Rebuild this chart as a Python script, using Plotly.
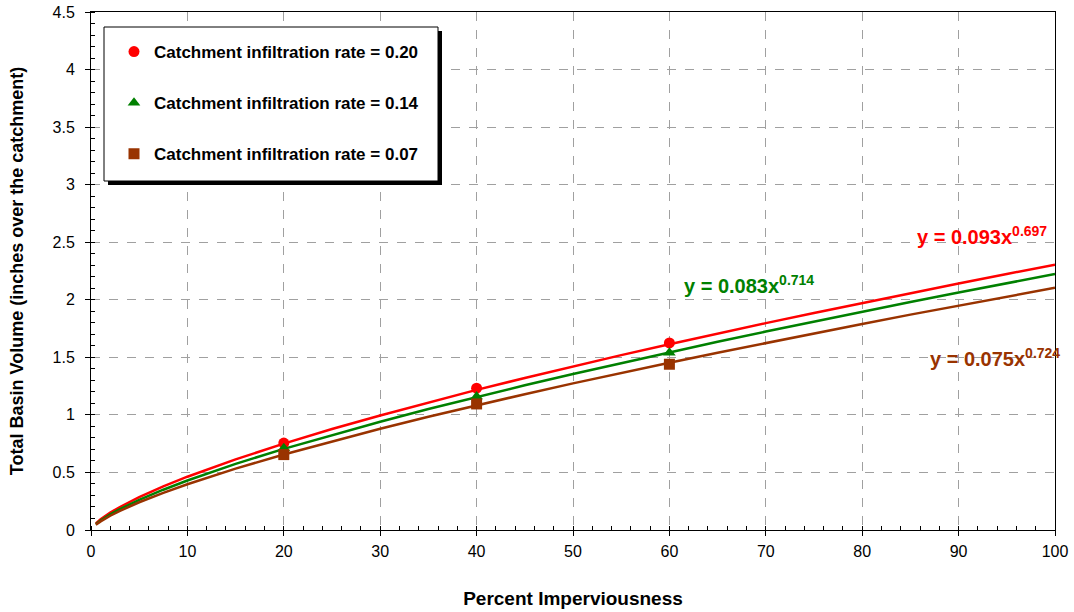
import plotly.graph_objects as go

# ---- data ----
x_curve = [0.5, 1, 2, 3, 5, 7.5, 10, 15, 20, 25, 30, 35, 40, 45, 50, 55, 60, 65, 70, 75, 80, 85, 90, 95, 100]
red_curve = [0.057, 0.093, 0.151, 0.200, 0.286, 0.379, 0.463, 0.614, 0.750, 0.877, 0.995, 1.109, 1.217, 1.321,
             1.421, 1.519, 1.613, 1.707, 1.797, 1.885, 1.972, 2.057, 2.141, 2.224, 2.304]
green_curve = [0.051, 0.083, 0.136, 0.182, 0.262, 0.350, 0.430, 0.574, 0.705, 0.826, 0.941, 1.051, 1.156, 1.257,
               1.356, 1.451, 1.544, 1.635, 1.724, 1.811, 1.896, 1.980, 2.063, 2.144, 2.224]
brown_curve = [0.045, 0.075, 0.124, 0.166, 0.241, 0.323, 0.397, 0.533, 0.656, 0.771, 0.880, 0.984, 1.084, 1.180,
               1.274, 1.365, 1.453, 1.540, 1.625, 1.708, 1.790, 1.871, 1.950, 2.027, 2.104]

x_pts = [20, 40, 60]
red_pts = [0.755, 1.232, 1.625]
green_pts = [0.710, 1.160, 1.540]
brown_pts = [0.655, 1.095, 1.440]

series_names = ["Catchment infiltration rate = 0.20",
                "Catchment infiltration rate = 0.14",
                "Catchment infiltration rate = 0.07"]
equations = ["y = 0.093x<sup>0.697</sup>", "y = 0.083x<sup>0.714</sup>", "y = 0.075x<sup>0.724</sup>"]
eq_pos = [(85.5, 2.555), (61.3, 2.13), (86.8, 1.495)]
x_ticks = [0, 10, 20, 30, 40, 50, 60, 70, 80, 90, 100]
y_ticks = [0, 0.5, 1, 1.5, 2, 2.5, 3, 3.5, 4, 4.5]

RED, GREEN, BROWN = "#FF0000", "#008000", "#993300"
colors = [RED, GREEN, BROWN]
symbols = ["circle", "triangle-up", "square"]
FONT = "Liberation Sans, Arial, sans-serif"

fig = go.Figure()
for yc, c in zip([red_curve, green_curve, brown_curve], colors):
    fig.add_trace(go.Scatter(x=x_curve, y=yc, mode="lines", line=dict(color=c, width=2.5),
                             showlegend=False, hoverinfo="skip"))
for i, (yp, c, s, n) in enumerate(zip([red_pts, green_pts, brown_pts], colors, symbols, series_names)):
    fig.add_trace(go.Scatter(x=x_pts, y=yp, mode="markers", name=f"<b>{n}</b>", legendgroup=f"g{i}",
                             marker=dict(color=c, symbol=s, size=11, line=dict(width=0))))

for (ex, ey), txt, c in zip(eq_pos, equations, colors):
    fig.add_annotation(x=ex, y=ey, xref="x", yref="y", text=f"<b>{txt}</b>", showarrow=False,
                       xanchor="left", yanchor="middle", font=dict(family=FONT, size=20, color=c))

# legend box with shadow (pixel positions relative to the plot area)
W, H, L, T = 964.0, 518.0, 91.0, 12.0
def px_x(p): return (p - L) / W
def px_y(p): return (T + H - p) / H
fig.add_shape(type="rect", xref="paper", yref="paper", layer="above",
              x0=px_x(108), x1=px_x(442), y0=px_y(185), y1=px_y(31),
              fillcolor="black", line=dict(width=0))
fig.add_shape(type="rect", xref="paper", yref="paper", layer="above",
              x0=px_x(104), x1=px_x(438), y0=px_y(181), y1=px_y(27),
              fillcolor="white", line=dict(color="black", width=1))

fig.update_layout(
    width=1074, height=612,
    margin=dict(l=91, r=19, t=12, b=82),
    paper_bgcolor="white", plot_bgcolor="white",
    font=dict(family=FONT, size=15, color="black"),
    showlegend=True,
    legend=dict(x=px_x(114), y=px_y(34), xanchor="left", yanchor="top",
                bgcolor="rgba(0,0,0,0)", borderwidth=0, tracegroupgap=26,
                traceorder="grouped", itemwidth=30,
                font=dict(family=FONT, size=17, color="black")),
    xaxis=dict(range=[0, 100], tickvals=x_ticks, ticktext=[str(v) for v in x_ticks], automargin=False,
               showgrid=True, gridcolor="#A0A0A0", griddash="dash", gridwidth=1,
               showline=True, linecolor="black", linewidth=1, mirror=True,
               ticks="outside", ticklen=5, tickcolor="black", zeroline=False, ticklabelstandoff=2,
               ticklabeloverflow="allow",
               minor=dict(dtick=2, ticks="inside", ticklen=4, tickcolor="black", showgrid=False),
               tickfont=dict(size=16),
               title=dict(text="<b>Percent Imperviousness</b>", standoff=32, font=dict(size=19))),
    yaxis=dict(range=[0, 4.5], tickvals=y_ticks, ticktext=[f"{v:g}" for v in y_ticks], automargin=False,
               showgrid=True, gridcolor="#A0A0A0", griddash="dash", gridwidth=1,
               showline=True, linecolor="black", linewidth=1, mirror=True,
               ticks="outside", ticklen=5, tickcolor="black", zeroline=False, ticklabelstandoff=7,
               ticklabeloverflow="allow",
               minor=dict(dtick=0.1, ticks="inside", ticklen=4, tickcolor="black", showgrid=False),
               tickfont=dict(size=16),
               title=dict(text="<b>Total Basin Volume (inches over the catchment)</b>", standoff=24,
                          font=dict(size=18))),
)

# remove the browser's default 8px page margin so the figure sits at the window's corner
fig.write_html("out.html", config={"displayModeBar": False},
               post_script="document.body.style.margin='0';")
